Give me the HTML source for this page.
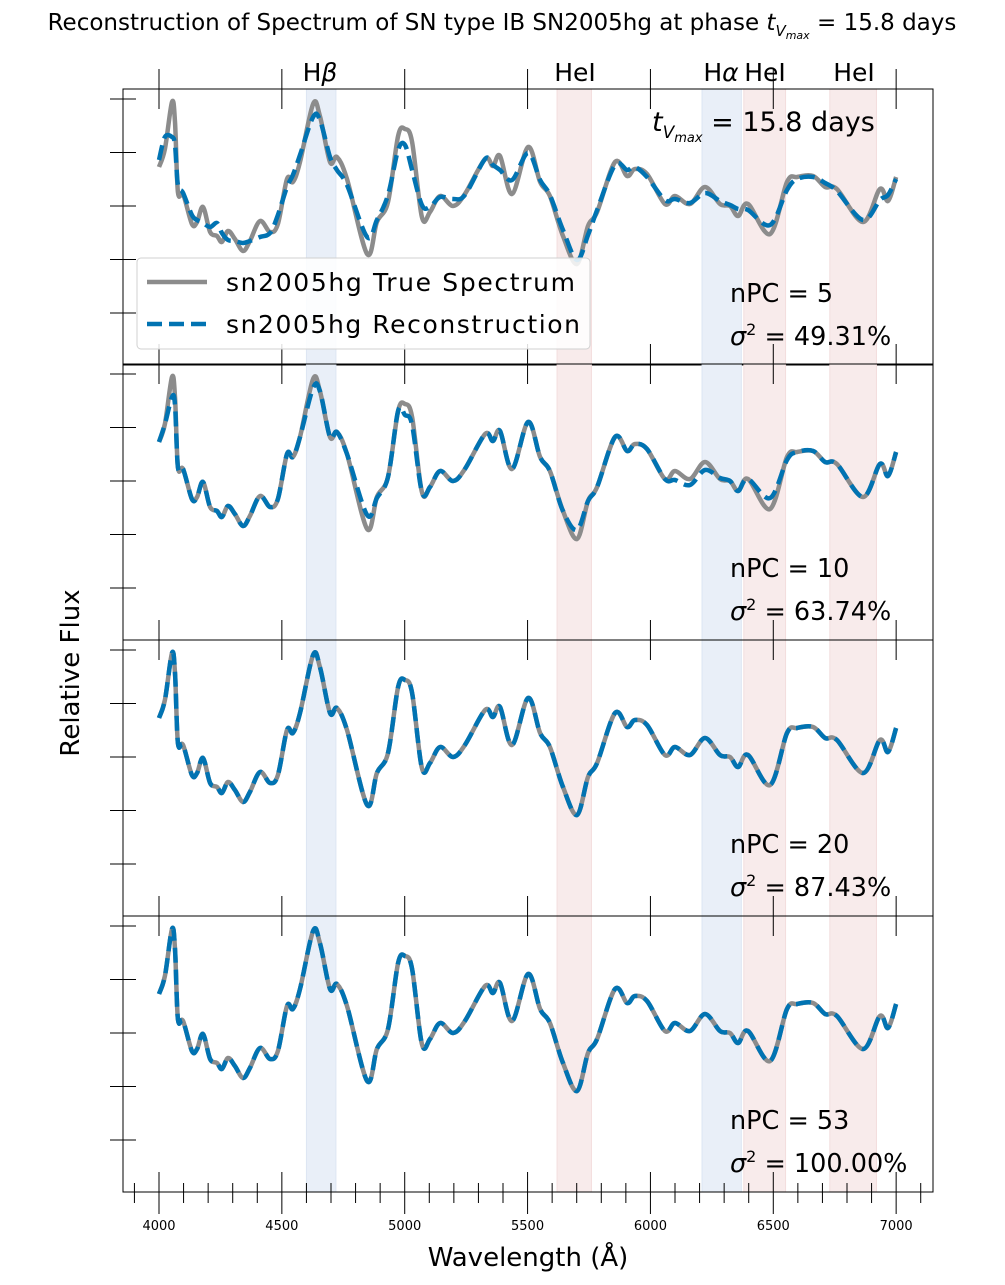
<!DOCTYPE html>
<html><head><meta charset="utf-8"><style>
body{margin:0;background:#fff}
svg{display:block;font-family:"DejaVu Sans","Liberation Sans",sans-serif}
</style></head><body>
<svg id="chart" width="1005" height="1285" viewBox="0 0 1005 1285">
<text x="502" y="30" font-size="23" text-anchor="middle">Reconstruction of Spectrum of SN type IB SN2005hg at phase <tspan font-style="italic">t</tspan><tspan font-style="italic" font-size="15" dy="6">V</tspan><tspan font-style="italic" font-size="11" dy="3">max</tspan><tspan dy="-9"> = 15.8 days</tspan></text>
<g id="plot"></g>
<text x="79" y="673" font-size="26" text-anchor="middle" transform="rotate(-90 79 673)">Relative Flux</text>
<text x="528" y="1266" font-size="26" text-anchor="middle">Wavelength (Å)</text>
</svg>
<script>
const wavelengths=[4000,4024,4053,4065,4077,4098,4134,4155,4179,4208,4236,4256,4281,4309,4342,4370,4411,4452,4484,4521,4545,4574,4627,4655,4696,4724,4765,4847,4887,4932,4973,5001,5030,5070,5103,5144,5197,5245,5327,5359,5388,5437,5502,5551,5591,5644,5701,5746,5783,5856,5905,5937,5986,6059,6100,6161,6222,6283,6324,6357,6397,6487,6556,6597,6662,6711,6759,6865,6934,6967,7000];
const trueFlux=[1.98,2.16,2.63,2.43,1.73,1.71,1.41,1.43,1.58,1.33,1.29,1.23,1.34,1.26,1.14,1.24,1.44,1.33,1.41,1.86,1.83,2.03,2.61,2.49,2.03,2.08,1.86,1.11,1.43,1.63,2.29,2.36,2.23,1.48,1.53,1.69,1.59,1.71,2.06,1.99,2.09,1.71,2.18,1.83,1.69,1.29,1.01,1.39,1.53,2.03,1.89,1.96,1.91,1.61,1.69,1.61,1.78,1.61,1.59,1.49,1.61,1.31,1.83,1.88,1.89,1.78,1.76,1.43,1.76,1.64,1.88];
const recon5=[2.05,2.28,2.28,2.20,1.80,1.72,1.50,1.45,1.42,1.38,1.42,1.32,1.25,1.24,1.22,1.24,1.28,1.32,1.50,1.78,1.90,2.10,2.48,2.45,2.08,1.95,1.80,1.28,1.45,1.70,2.15,2.20,1.95,1.60,1.58,1.68,1.66,1.70,2.06,2.00,1.95,1.85,2.12,1.85,1.70,1.35,1.05,1.30,1.55,2.00,1.95,1.98,1.88,1.65,1.66,1.62,1.72,1.64,1.60,1.56,1.55,1.40,1.75,1.86,1.88,1.82,1.74,1.45,1.65,1.70,1.86];
const recon10=[1.98,2.16,2.43,2.35,1.73,1.71,1.41,1.43,1.58,1.33,1.29,1.23,1.34,1.26,1.14,1.24,1.44,1.33,1.41,1.86,1.83,2.03,2.52,2.49,2.03,2.08,1.86,1.25,1.42,1.63,2.29,2.25,2.15,1.48,1.53,1.69,1.59,1.71,2.06,1.99,2.09,1.71,2.18,1.83,1.69,1.29,1.10,1.39,1.53,2.03,1.89,1.96,1.91,1.61,1.60,1.55,1.70,1.62,1.59,1.49,1.61,1.42,1.80,1.88,1.89,1.78,1.76,1.43,1.76,1.64,1.88];
const recon20=trueFlux.slice();
const recon53=trueFlux.slice();
const nPCs=["5","10","20","53"];
const variances=["49.31%","63.74%","87.43%","100.00%"];
const xTicks=[4000,4500,5000,5500,6000,6500,7000];
const lineBands=[["Hβ",4600,4720,"b"],["HeI",5620,5760,"r"],["Hα",6210,6370,"b"],["HeI",6380,6550,"r"],["HeI",6730,6920,"r"]];
const bandLabelX=[320,575,721,765,854];

const NS="http://www.w3.org/2000/svg";
const g=document.getElementById('plot');
const L=123,R=933,X0=3853.5,X1=7150;
const tops=[89,364,640,916],PH=276;
const xs=w=>L+(w-X0)/(X1-X0)*(R-L);
const ys=(f,p)=>tops[p]+PH-f*100;
function mk(t,a,parent){const e=document.createElementNS(NS,t);for(const k in a)e.setAttribute(k,a[k]);(parent||g).appendChild(e);return e;}
function path(vals,p){
  const pts=wavelengths.map((w,i)=>[xs(w),ys(vals[i],p)]);
  let d="M"+pts[0][0].toFixed(1)+","+pts[0][1].toFixed(1);
  for(let i=0;i<pts.length-1;i++){
    const p0=pts[Math.max(0,i-1)],p1=pts[i],p2=pts[i+1],p3=pts[Math.min(pts.length-1,i+2)];
    const c1=[p1[0]+(p2[0]-p0[0])/6,p1[1]+(p2[1]-p0[1])/6],c2=[p2[0]-(p3[0]-p1[0])/6,p2[1]-(p3[1]-p1[1])/6];
    d+="C"+c1.map(v=>v.toFixed(1))+" "+c2.map(v=>v.toFixed(1))+" "+p2.map(v=>v.toFixed(1));
  }
  return d;
}
const recons=[recon5,recon10,recon20,recon53];
for(let p=0;p<4;p++){
  const pg=mk('g',{});
  
  
  lineBands.forEach(b=>{
    const r=mk('rect',{x:xs(b[1]),y:tops[p],width:xs(b[2])-xs(b[1]),height:PH,fill:b[3]=="b"?"#e9eff8":"#f8ebeb",stroke:b[3]=="b"?"#dde6f3":"#f3dede"},pg);
    
    
  });
  const t=mk('path',{d:path(trueFlux,p),fill:"none",stroke:"#8c8c8c","stroke-width":4.5},pg);
  
  
  const rc=mk('path',{d:path(recons[p],p),fill:"none",stroke:"#0173b2","stroke-width":4.5,"stroke-dasharray":"15,7"},pg);
  
  
  const fr=mk('rect',{x:L,y:tops[p],width:R-L,height:PH,fill:"none",stroke:"#000","stroke-width":1},pg);
  
  
  for(let k=0;k<5;k++){const y=tops[p]+10+k*53.5;
    const tk=mk('line',{x1:L-13,x2:L+13,y1:y,y2:y,stroke:"#000"},pg);
    
    }
  xTicks.forEach(w=>{
    const tk=mk('line',{x1:xs(w),x2:xs(w),y1:tops[p]-20,y2:tops[p]+20,stroke:"#000"},pg);
    
    
  });
  const a1=mk('text',{x:730,y:tops[p]+213,"font-size":25.5},pg);a1.textContent="nPC = "+nPCs[p];
  
  
  const a2=mk('text',{x:730,y:tops[p]+256,"font-size":25.5},pg);
  a2.innerHTML='<tspan font-style="italic">σ</tspan><tspan font-size="16" dy="-10">2</tspan><tspan dy="10"> = '+variances[p]+'</tspan>';
  
  
}
for(let w=3900;w<=7100;w+=100){const major=w%500==0;
  const tk=mk('line',{x1:xs(w),x2:xs(w),y1:major?1172:1183,y2:major?1214:1203,stroke:"#000"});
  
  }
xTicks.forEach(w=>{const t=mk('text',{x:xs(w),y:1230,"font-size":13,"text-anchor":"middle"});t.textContent=w;
  
  });
lineBands.forEach((b,i)=>{const t=mk('text',{x:bandLabelX[i],y:81,"font-size":25,"text-anchor":"middle"});
  t.innerHTML=b[0]=="Hβ"?'H<tspan font-style="italic">β</tspan>':b[0]=="Hα"?'H<tspan font-style="italic">α</tspan>':b[0];
  
  });
const ph=mk('text',{x:652,y:131,"font-size":27});
ph.innerHTML='<tspan font-style="italic">t</tspan><tspan font-style="italic" font-size="17" dy="7">V</tspan><tspan font-style="italic" font-size="13" dy="4">max</tspan><tspan dy="-11"> = 15.8 days</tspan>';


const lg=mk('g',{});


mk('rect',{x:137,y:258,width:453,height:91,rx:4,fill:"#fff","fill-opacity":0.85,stroke:"#d0d0d0"},lg);
mk('line',{x1:147,x2:207,y1:282,y2:282,stroke:"#8c8c8c","stroke-width":4.5},lg);
mk('line',{x1:147,x2:207,y1:324,y2:324,stroke:"#0173b2","stroke-width":4.5,"stroke-dasharray":"15,7"},lg);
const l1=mk('text',{x:226,y:291,"font-size":25,textLength:349},lg);l1.textContent="sn2005hg True Spectrum";


const l2=mk('text',{x:226,y:333,"font-size":25,textLength:354},lg);l2.textContent="sn2005hg Reconstruction";


</script>
</body></html>
